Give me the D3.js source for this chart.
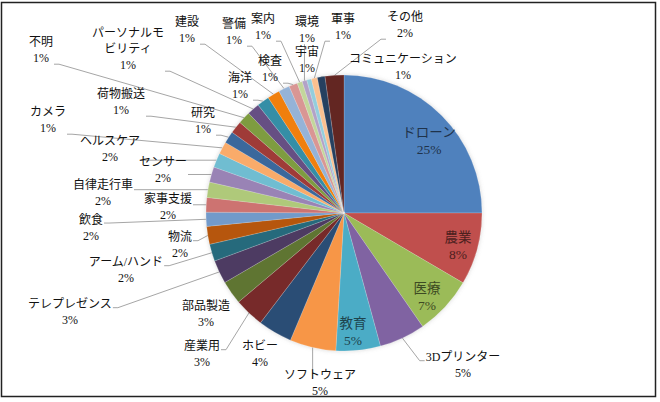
<!DOCTYPE html>
<html>
<head>
<meta charset="utf-8">
<script src="https://cdn.jsdelivr.net/npm/d3@7"></script>
<style>
  body { margin: 0; background: #fff; }
  svg text { font-family: "Liberation Serif", "Noto Sans CJK JP", serif; }
</style>
</head>
<body>
<div id="chart"></div>
<script>
// カテゴリ（12時から時計回り）
const categories = [
  "ドローン", "農業", "医療", "3Dプリンター", "教育", "ソフトウェア", "ホビー", "産業用",
  "部品製造", "テレプレゼンス", "アーム/ハンド", "物流", "飲食", "家事支援", "自律走行車",
  "センサー", "ヘルスケア", "カメラ", "研究", "荷物搬送", "不明", "パーソナルモビリティ",
  "海洋", "建設", "警備", "検査", "案内", "環境", "宇宙", "軍事", "コミュニケーション", "その他"
];

// 割合（%）、図から読み取り
const shares = [
  25.0, 8.45, 6.9, 5.4, 5.2, 5.4, 4.0, 3.5,
  2.75, 2.75, 2.0, 2.1, 1.65, 1.7, 1.8,
  1.8, 1.7, 1.45, 1.4, 1.45, 1.45, 1.45,
  1.45, 1.45, 1.3, 1.0, 0.6, 0.55, 0.55, 0.7, 0.9, 2.2
];

// Excel風の配色
const colors = [
  "#4F81BD", "#C0504D", "#9BBB59", "#8064A2", "#4BACC6", "#F79646",
  "#2C4D75", "#772C2A", "#5F7530", "#4D3B62", "#276A7C", "#B65708",
  "#729ACA", "#CD7371", "#AFC97A", "#9983B5", "#6FBDD1", "#F9AB6B",
  "#3A679C", "#9F3B38", "#7E9C40", "#664F83", "#358EA6", "#F07F09",
  "#95B3D7", "#D99694", "#C3D69B", "#B2A2C7", "#93CDDD", "#FAC090",
  "#254061", "#632523"
];

// ラベルを扇形の中に置くもの
const insideLabels = ["ドローン", "農業", "医療", "教育"];
// 引き出し線なし
const noLeader = ["ホビー", "部品製造"];

// ラベル位置（1行目の中心）
const labelAt = [
  [429, 132], [458, 237], [427, 288], [463, 357], [353, 323], [320, 375], [260, 346], [202, 346],
  [206, 306], [70, 304], [126, 262], [180, 237], [91, 220], [168, 199], [103, 185],
  [163, 162], [110, 141], [48, 112], [203, 113], [121, 94], [41, 42], [128, 33],
  [240, 78], [187, 22], [234, 24], [270, 61], [263, 19], [307, 22], [307, 52], [343, 19], [403, 59], [405, 17]
];

const width = 660, height = 402;
const cx = 344, cy = 213, radius = 138;

const total = d3.sum(shares);
const fmt = d3.format(".0%");

const data = categories.map((c, i) => ({ name: c, value: shares[i], color: colors[i], pos: labelAt[i] }));

const svg = d3.select("#chart").append("svg")
  .attr("width", width)
  .attr("height", height);

// 枠
svg.append("rect")
  .attr("x", 1.5).attr("y", 2.5)
  .attr("width", 654).attr("height", 394)
  .attr("fill", "#fff")
  .attr("stroke", "#222")
  .attr("stroke-width", 1.5);

const defs = svg.append("defs");
const glow = defs.append("filter").attr("id", "soft")
  .attr("x", "-10%").attr("y", "-10%").attr("width", "120%").attr("height", "120%");
glow.append("feDropShadow")
  .attr("dx", 0).attr("dy", 0).attr("stdDeviation", 2)
  .attr("flood-color", "#888").attr("flood-opacity", 0.35);

const pie = d3.pie().value(d => d.value).sort(null);
const arc = d3.arc().innerRadius(0).outerRadius(radius);
const edge = d3.arc().innerRadius(radius).outerRadius(radius);

const arcs = pie(data);

const lineLayer = svg.append("g");

const g = svg.append("g").attr("transform", `translate(${cx},${cy})`);

g.append("g").attr("filter", "url(#soft)")
  .selectAll("path")
  .data(arcs)
  .enter()
  .append("path")
  .attr("d", arc)
  .attr("fill", d => d.data.color)
  .attr("stroke", "#fff")
  .attr("stroke-opacity", 0.35)
  .attr("stroke-width", 0.5);

// ラベル
const labelLayer = svg.append("g");

arcs.forEach(a => {
  const d = a.data;
  const inside = insideLabels.includes(d.name);
  const size = inside ? 13.5 : 12;
  const lines = d.name.length > 9 ? [d.name.slice(0, 6), d.name.slice(6)] : [d.name];
  lines.push(fmt(d.value / total));

  const fill = inside ? d3.color(d.color).darker(2.6).formatHex() : "#111";

  const t = labelLayer.append("text")
    .attr("text-anchor", "middle")
    .style("font-size", size + "px")
    .attr("fill", fill);

  lines.forEach((s, k) => {
    t.append("tspan")
      .attr("x", d.pos[0])
      .attr("y", d.pos[1] + k * (size + 4))
      .attr("dy", "0.35em")
      .text(s);
  });

  if (inside || noLeader.includes(d.name)) return;

  // 引き出し線
  const b = t.node().getBBox();
  const [ex, ey] = edge.centroid(a);
  const tx = cx + ex, ty = cy + ey;
  const left = b.x - 1, right = b.x + b.width + 1;
  const top = b.y + b.height * 0.35, bottom = b.y + b.height - 1;
  const px = Math.max(left, Math.min(right, tx));
  const py = Math.max(top, Math.min(bottom, ty));
  if (Math.hypot(tx - px, ty - py) < 8) return;

  const pts = [[px, py]];
  if (px === right) pts.push([px + 5, py]);
  else if (px === left) pts.push([px - 5, py]);
  pts.push([tx, ty]);

  lineLayer.append("path")
    .attr("d", d3.line()(pts))
    .attr("fill", "none")
    .attr("stroke", "#a6a6a6")
    .attr("stroke-width", 1);
});
</script>
</body>
</html>
